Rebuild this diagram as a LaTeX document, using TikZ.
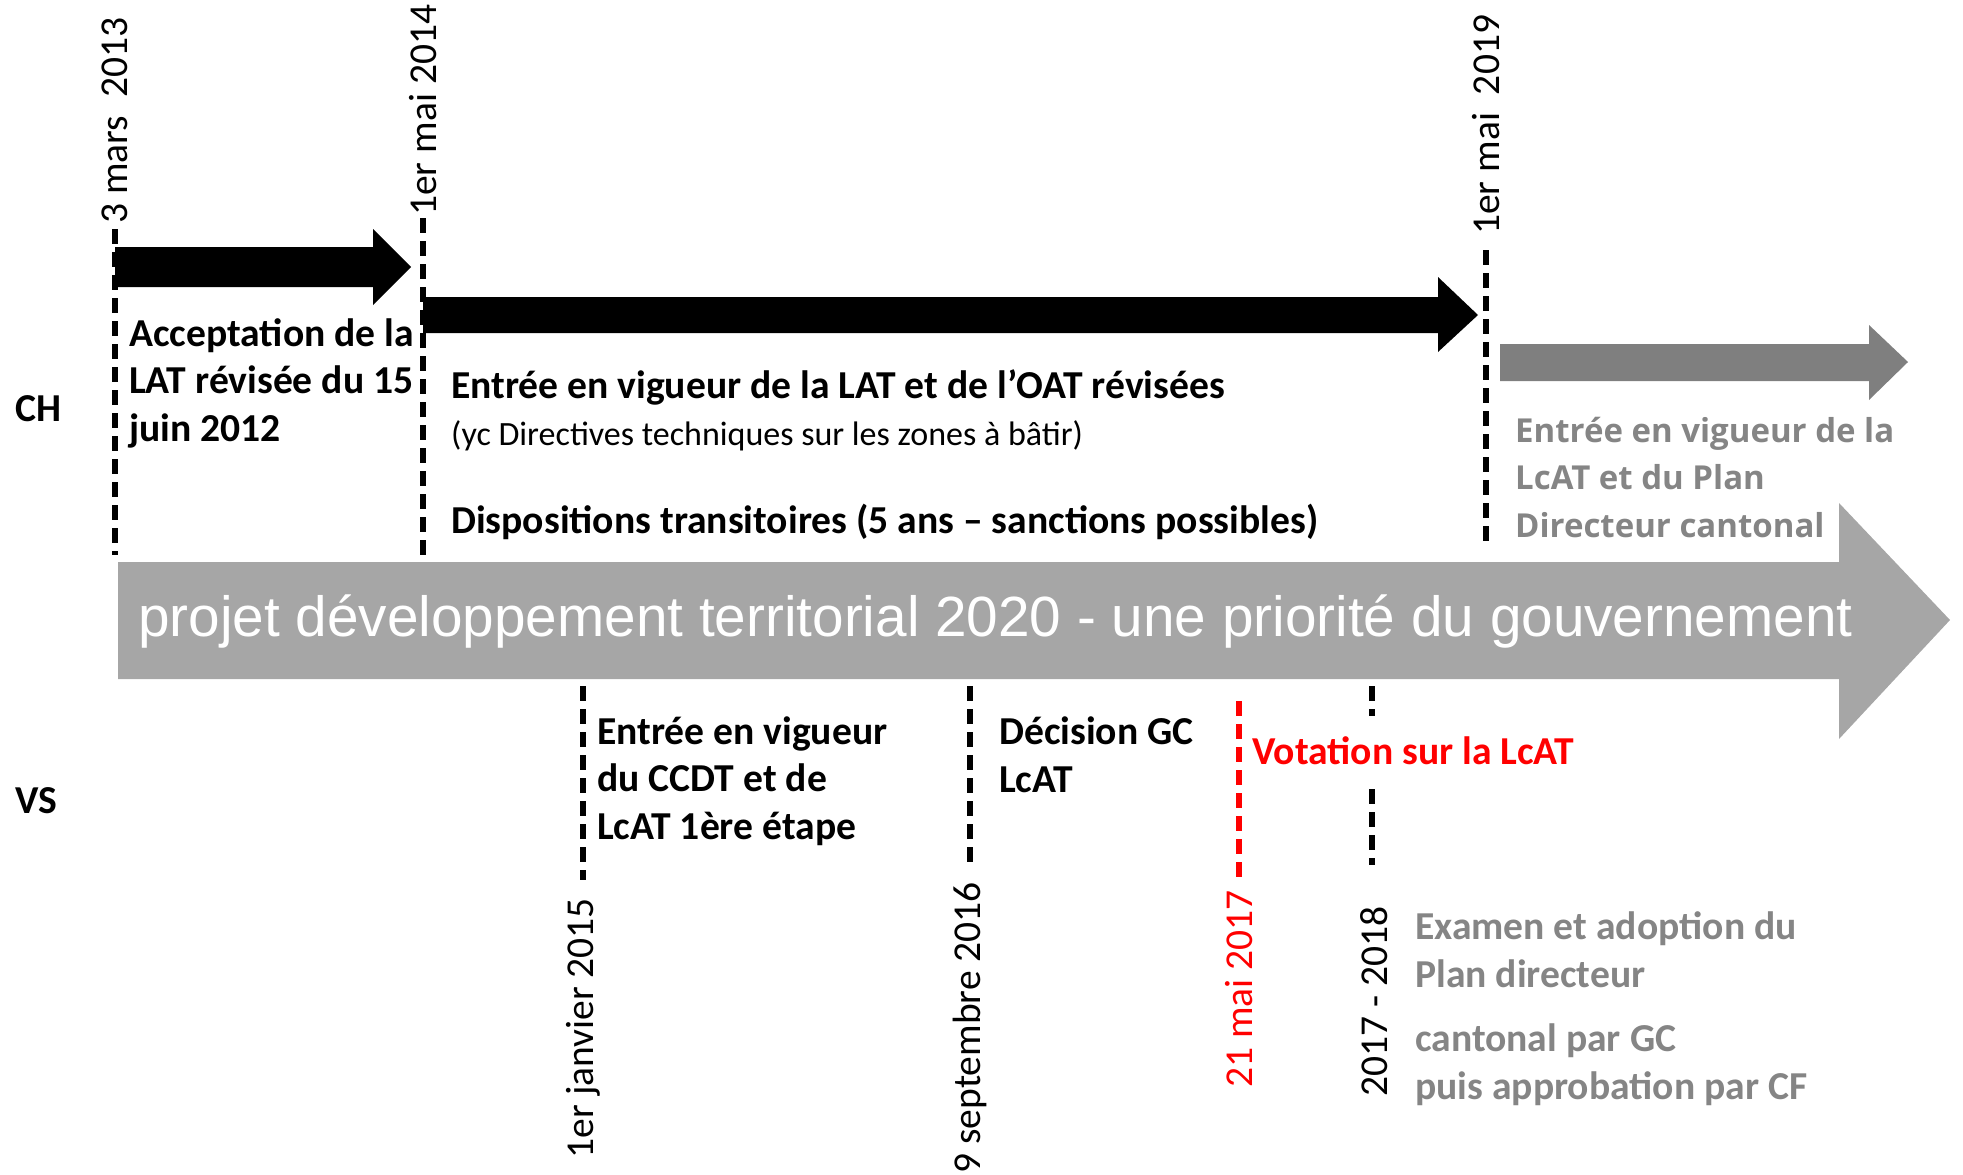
\documentclass[tikz,border=0pt]{standalone}
\usepackage{fontspec}
\setmainfont{Carlito}
\newfontfamily\arialf{Liberation Sans}
\newfontfamily\opensansf{Open Sans}
\definecolor{biggray}{HTML}{A6A6A6}
\definecolor{darkgray}{HTML}{7F7F7F}
\definecolor{txtgray}{HTML}{858585}
\definecolor{vred}{HTML}{FF0000}
\begin{document}
\begin{tikzpicture}[x=1pt,y=-1pt,
  dline/.style={line width=5.5pt, dash pattern=on 15pt off 8pt},
  boldtxt/.style={font=\fontsize{39.6}{47.5}\selectfont\bfseries, inner sep=0pt, align=left, anchor=base west},
  datelbl/.style={font=\fontsize{39.5}{47}\selectfont, rotate=90, inner sep=0pt},
  ]
\useasboundingbox (0,0) rectangle (1963,1175);

% big gray arrow
\fill[biggray] (118,562) -- (1839,562) -- (1839,503) -- (1950,620) -- (1839,739) -- (1839,679) -- (118,679) -- cycle;
\node[font=\arialf\fontsize{56.7}{60}\selectfont, text=white, inner sep=0pt, anchor=base west] (big) at (138,636)
  {projet développement territorial 2020 - une priorité du gouvernement};

% black arrows
\fill[black] (115,247) -- (373,247) -- (373,229) -- (411,267) -- (373,305) -- (373,287) -- (115,287) -- cycle;
\fill[black] (423,297) -- (1438,297) -- (1438,277) -- (1478,315) -- (1438,352) -- (1438,333) -- (423,333) -- cycle;
\fill[darkgray] (1500,344) -- (1869,344) -- (1869,325) -- (1908,362) -- (1869,400) -- (1869,381) -- (1500,381) -- cycle;

% top dashed lines
\coordinate (t1a) at (115,229); \coordinate (t1b) at (115,555);
\coordinate (t2a) at (423,218); \coordinate (t2b) at (423,558);
\coordinate (t3a) at (1486,250); \coordinate (t3b) at (1486,543);
\draw[dline] (t1a) -- (t1b);
\draw[dline] (t2a) -- (t2b);
\draw[dline] (t3a) -- (t3b);
\node[datelbl, anchor=west] (d1) at ([yshift=5pt]t1a) {3 mars\ \ 2013};
\node[datelbl, anchor=west] (d2) at ([yshift=2pt]t2a) {1er mai 2014};
\node[datelbl, anchor=west] (d3) at ([yshift=15pt]t3a) {1er mai\ \ 2019};

% bottom dashed lines
\coordinate (b1a) at (583,686); \coordinate (b1b) at (583,880);
\coordinate (b2a) at (970,686); \coordinate (b2b) at (970,865);
\coordinate (b3a) at (1239,701); \coordinate (b3b) at (1239,879);
\coordinate (b4a) at (1372,686); \coordinate (b4b) at (1372,716);
\coordinate (b4c) at (1372,789); \coordinate (b4d) at (1372,865);
\draw[dline] (b1a) -- (b1b);
\draw[dline] (b2a) -- (b2b);
\draw[dline, vred] (b3a) -- (b3b);
\draw[dline] (b4a) -- (b4b);
\draw[dline] (b4c) -- (b4d);
\node[datelbl, anchor=east] (d4) at (583,898) {1er janvier 2015};
\node[datelbl, anchor=east] (d5) at (970,882) {9 septembre 2016};
\node[datelbl, anchor=east, text=vred] (d6) at (1239,890) {21 mai 2017};
\node[datelbl, anchor=east] (d7) at (1374,906) {2017 - 2018};

% side labels
\node[boldtxt] (ch) at (15,421) {CH};
\node[boldtxt] (vs) at (15,813) {VS};

% texts (base anchor = baseline of last line)
\node[boldtxt] (acc) at (129,441) {Acceptation de la\\LAT révisée du 15\\juin 2012};
\node[boldtxt] (lat) at (451,398) {Entrée en vigueur de la LAT et de l’OAT révisées};
\node[font=\fontsize{34}{40}\selectfont, inner sep=0pt, anchor=base west] (yc) at (451,445) {(yc Directives techniques sur les zones à bâtir)};
\node[boldtxt] (disp) at (451,533) {Dispositions transitoires (5 ans – sanctions possibles)};
\node[font=\opensansf\bfseries\fontsize{33}{47.5}\selectfont, text=txtgray, inner sep=0pt, align=left, anchor=base west] (lcat) at (1515,537)
  {Entrée en vigueur de la\\LcAT et du Plan\\Directeur cantonal};
\node[boldtxt] (ccdt) at (597,839) {Entrée en vigueur\\du CCDT et de\\LcAT 1ère étape};
\node[boldtxt] (gc) at (999,792) {Décision GC\\LcAT};
\node[boldtxt, text=vred] (vot) at (1252,764) {Votation sur la LcAT};
\node[boldtxt, text=txtgray] (exam) at (1415,1099) {Examen et adoption du\\Plan directeur\\[17pt]cantonal par GC\\puis approbation par CF};
\end{tikzpicture}
\end{document}
